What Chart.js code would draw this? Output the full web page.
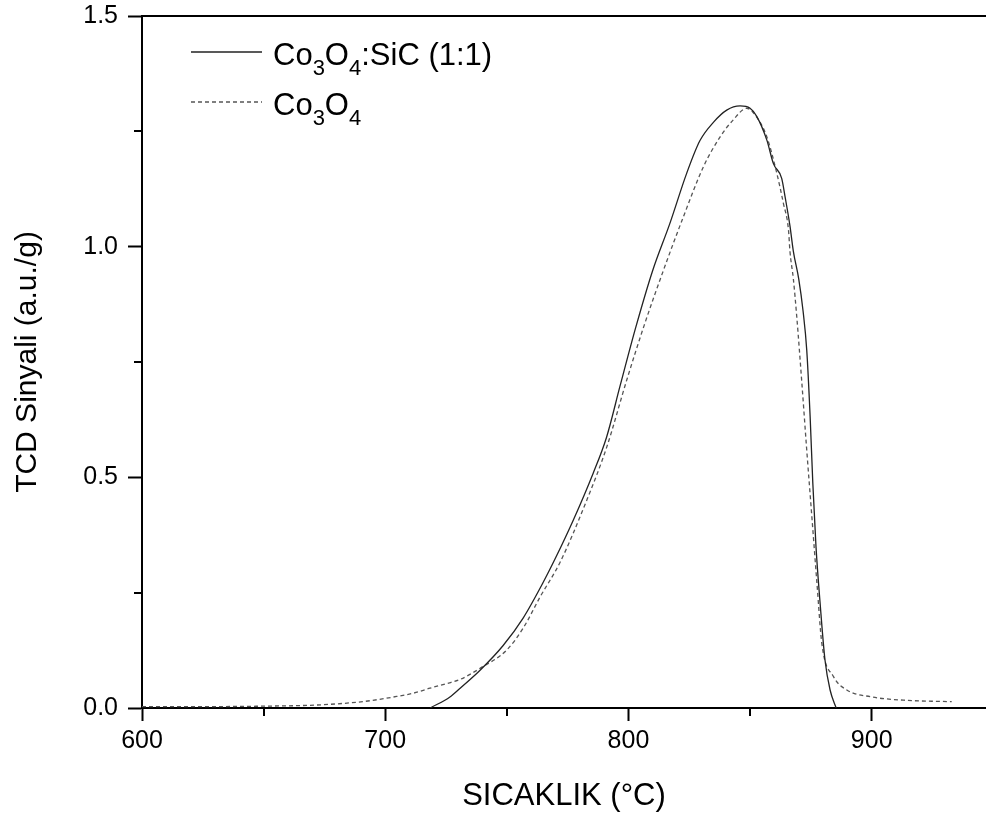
<!DOCTYPE html>
<html>
<head>
<meta charset="utf-8">
<script src="https://cdn.jsdelivr.net/npm/chart.js@4.4.1/dist/chart.umd.min.js"></script>
<style>
  body { margin: 0; background: #fff; }
</style>
</head>
<body>
<canvas id="chart" width="986" height="823"></canvas>
<script>
// Co3O4:SiC (1:1) - solid line
const sicTemps = [718.5, 726.6, 730.8, 739, 748.4, 756.7, 764.9, 770, 777.3, 785.5, 791, 796.5, 803, 810, 817, 824, 829.4, 835, 840.4, 845.9, 850, 852.8, 856.9, 859.6, 863, 864.4, 866.4, 867.8, 870, 871.8, 873.3, 874.7, 875.8, 877.1, 878.8, 880.8, 882.9, 885.4];
const sicValues = [0, 0.024, 0.043, 0.082, 0.135, 0.195, 0.272, 0.325, 0.407, 0.509, 0.587, 0.697, 0.825, 0.949, 1.05, 1.16, 1.23, 1.27, 1.296, 1.305, 1.30, 1.282, 1.231, 1.18, 1.148, 1.108, 1.045, 0.99, 0.93, 0.86, 0.776, 0.631, 0.487, 0.35, 0.227, 0.104, 0.039, 0];

// Co3O4 - dashed line
const coTemps = [600, 625, 650, 671.8, 691, 704.7, 711.5, 718.4, 725.3, 730.8, 739, 750, 756.7, 763.7, 771.9, 782.9, 791.1, 799.3, 806.5, 814.4, 822.6, 830.8, 837.7, 843.1, 848.6, 852.8, 856.9, 861, 863.7, 865.8, 866.4, 867.8, 869.2, 871.3, 873.3, 875.4, 877.5, 879.5, 884.3, 889.8, 899.4, 913, 932.9];
const coValues = [0.003, 0.003, 0.004, 0.0065, 0.014, 0.025, 0.032, 0.043, 0.053, 0.062, 0.086, 0.126, 0.173, 0.241, 0.316, 0.451, 0.566, 0.711, 0.83, 0.949, 1.065, 1.173, 1.238, 1.275, 1.30, 1.28, 1.238, 1.159, 1.094, 1.036, 0.99, 0.93, 0.848, 0.704, 0.559, 0.415, 0.27, 0.14, 0.068, 0.039, 0.0245, 0.017, 0.0137];

const xMajorTicks = [600, 700, 800, 900];
const xMinorTicks = [650, 750, 850];
const yMajorTicks = [0.0, 0.5, 1.0, 1.5];
const yMinorTicks = [0.25, 0.75, 1.25];

// legend text pieces: [text, isSubscript]
const legendSic = [['Co', false], ['3', true], ['O', false], ['4', true], [':SiC (1:1)', false]];
const legendCo = [['Co', false], ['3', true], ['O', false], ['4', true]];

const FONT = "'Liberation Sans', Arial, sans-serif";

function toPoints(xs, ys) {
  return xs.map(function (x, i) { return { x: x, y: ys[i] }; });
}

const ctx = document.getElementById('chart').getContext('2d');

const extrasPlugin = {
  id: 'extras',
  afterDraw: function (chart) {
    const c = chart.ctx;
    const area = chart.chartArea;
    const xs = chart.scales.x;
    const ys = chart.scales.y;
    c.save();
    c.strokeStyle = '#000';
    c.lineWidth = 2;
    // top frame line
    c.beginPath();
    c.moveTo(area.left - 1, area.top);
    c.lineTo(area.right, area.top);
    c.stroke();
    // minor ticks
    xMinorTicks.forEach(function (v) {
      const px = Math.round(xs.getPixelForValue(v));
      c.beginPath();
      c.moveTo(px, area.bottom);
      c.lineTo(px, area.bottom + 8);
      c.stroke();
    });
    yMinorTicks.forEach(function (v) {
      const py = Math.round(ys.getPixelForValue(v));
      c.beginPath();
      c.moveTo(area.left, py);
      c.lineTo(area.left - 8, py);
      c.stroke();
    });

    // legend
    const rows = [
      { parts: legendSic, ds: chart.data.datasets[0], y: 52 },
      { parts: legendCo, ds: chart.data.datasets[1], y: 102 }
    ];
    rows.forEach(function (row) {
      c.save();
      c.strokeStyle = row.ds.borderColor;
      c.lineWidth = row.ds.borderWidth;
      c.setLineDash(row.ds.borderDash || []);
      c.beginPath();
      c.moveTo(191, row.y);
      c.lineTo(262, row.y);
      c.stroke();
      c.restore();
      let tx = 273;
      const base = row.y + 13;
      c.fillStyle = '#000';
      c.textBaseline = 'alphabetic';
      c.textAlign = 'left';
      row.parts.forEach(function (p) {
        if (p[1]) {
          c.font = '22px ' + FONT;
          c.fillText(p[0], tx, base + 10);
        } else {
          c.font = '31px ' + FONT;
          c.fillText(p[0], tx, base);
        }
        tx += c.measureText(p[0]).width;
      });
    });
    c.restore();
  }
};

new Chart(ctx, {
  type: 'line',
  data: {
    datasets: [{
      label: 'Co3O4:SiC (1:1)',
      data: toPoints(sicTemps, sicValues),
      borderColor: '#222',
      borderWidth: 1.3,
      pointRadius: 0,
      cubicInterpolationMode: 'monotone',
      fill: false
    }, {
      label: 'Co3O4',
      data: toPoints(coTemps, coValues),
      borderColor: '#555',
      borderWidth: 1.3,
      borderDash: [4, 3],
      pointRadius: 0,
      cubicInterpolationMode: 'monotone',
      fill: false
    }]
  },
  options: {
    responsive: false,
    animation: false,
    layout: { padding: { top: 16, right: 0, left: 0, bottom: 0 } },
    plugins: {
      legend: { display: false },
      tooltip: { enabled: false }
    },
    scales: {
      x: {
        type: 'linear',
        min: 600,
        max: 947,
        afterFit: function (scale) {
          scale.height = 115;
          scale.paddingLeft = 0;
          scale.paddingRight = 0;
        },
        afterBuildTicks: function (scale) {
          scale.ticks = xMajorTicks.map(function (v) { return { value: v }; });
        },
        ticks: {
          color: '#000',
          font: { family: FONT, size: 25 },
          padding: 5,
          maxRotation: 0,
          callback: function (v) { return String(v); }
        },
        grid: {
          drawOnChartArea: false,
          drawTicks: true,
          tickLength: 13,
          tickWidth: 2,
          tickColor: '#000'
        },
        border: { display: true, color: '#000', width: 2 },
        title: {
          display: true,
          text: 'SICAKLIK (°C)',
          color: '#000',
          font: { family: FONT, size: 31 },
          padding: { top: 0, bottom: 8 }
        }
      },
      y: {
        type: 'linear',
        min: 0,
        max: 1.5,
        afterFit: function (scale) {
          scale.width = 142;
          scale.paddingTop = 0;
          scale.paddingBottom = 0;
        },
        afterBuildTicks: function (scale) {
          scale.ticks = yMajorTicks.map(function (v) { return { value: v }; });
        },
        ticks: {
          color: '#000',
          font: { family: FONT, size: 25 },
          padding: 10,
          callback: function (v) { return Number(v).toFixed(1); }
        },
        grid: {
          drawOnChartArea: false,
          drawTicks: true,
          tickLength: 14,
          tickWidth: 2,
          tickColor: '#000'
        },
        border: { display: true, color: '#000', width: 2 },
        title: {
          display: true,
          text: 'TCD Sinyali (a.u./g)',
          color: '#000',
          font: { family: FONT, size: 30 },
          padding: { top: 10, bottom: 0 }
        }
      }
    }
  },
  plugins: [extrasPlugin]
});
</script>
</body>
</html>
